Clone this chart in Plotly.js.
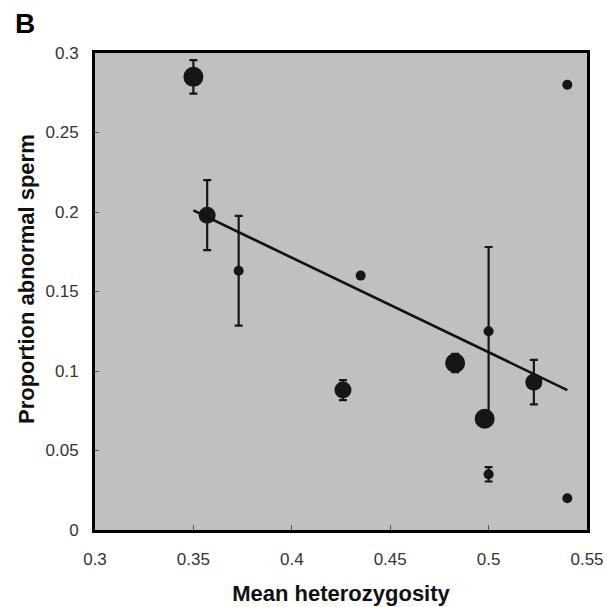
<!DOCTYPE html>
<html>
<head>
<meta charset="utf-8">
<script src="https://cdn.plot.ly/plotly-3.0.1.min.js"></script>
<style>
  html, body { margin: 0; padding: 0; background: #ffffff; }
  #chart { width: 607px; height: 607px; }
</style>
</head>
<body>
<div id="chart"></div>
<script>
// Data
var heterozygosity = [0.350, 0.357, 0.373, 0.426, 0.435, 0.483, 0.498, 0.500, 0.500, 0.523, 0.540, 0.540];
var abnormalSperm  = [0.285, 0.198, 0.163, 0.088, 0.160, 0.105, 0.070, 0.125, 0.035, 0.093, 0.280, 0.020];
var errorSE        = [0.0105, 0.022, 0.0345, 0.0063, 0, 0.0058, 0, 0.053, 0.0045, 0.014, 0, 0];
var sampleClass    = ['large', 'medium', 'small', 'medium', 'small', 'large', 'large', 'small', 'small', 'medium', 'small', 'small'];
var fitX = [0.350, 0.540];
var fitY = [0.201, 0.088];
var xTickVals = [0.3, 0.35, 0.4, 0.45, 0.5, 0.55];
var xTickText = ['0.3', '0.35', '0.4', '0.45', '0.5', '0.55'];
var yTickVals = [0, 0.05, 0.1, 0.15, 0.2, 0.25, 0.3];
var yTickText = ['0', '0.05', '0.1', '0.15', '0.2', '0.25', '0.3'];

var classSize = { large: 20, medium: 17, small: 10 };
var markerSizes = sampleClass.map(function (c) { return classSize[c]; });

var points = {
  type: 'scatter',
  mode: 'markers',
  x: heterozygosity,
  y: abnormalSperm,
  opacity: 1,
  marker: { color: '#161616', opacity: 1, size: markerSizes, line: { width: 0 } },
  error_y: { type: 'data', array: errorSE, visible: true, color: '#161616', thickness: 2.2, width: 4 },
  showlegend: false,
  hoverinfo: 'x+y'
};

var fitLine = {
  type: 'scatter',
  mode: 'lines',
  x: fitX,
  y: fitY,
  line: { color: '#111111', width: 2.6 },
  showlegend: false,
  hoverinfo: 'skip'
};

var font = 'Liberation Sans, Arial, Helvetica, sans-serif';

var layout = {
  width: 607,
  height: 607,
  margin: { l: 95, r: 20, t: 53, b: 77, pad: 0 },
  paper_bgcolor: '#ffffff',
  plot_bgcolor: '#c0c0c0',
  showlegend: false,
  font: { family: font, color: '#333333', size: 17 },
  xaxis: {
    range: [0.3, 0.55],
    tickvals: xTickVals,
    ticktext: xTickText,
    ticks: 'inside',
    ticklen: 5,
    tickwidth: 1,
    tickcolor: '#555555',
    showgrid: false,
    zeroline: false,
    showline: true,
    linecolor: '#000000',
    linewidth: 3,
    mirror: true,
    ticklabelstandoff: 12,
    tickfont: { family: font, size: 17, color: '#333333' },
    title: { text: 'Mean heterozygosity', font: { family: font, size: 22, color: '#111111', weight: 'bold' }, standoff: 18 }
  },
  yaxis: {
    range: [0, 0.3],
    tickvals: yTickVals,
    ticktext: yTickText,
    ticks: 'inside',
    ticklen: 4,
    tickwidth: 1,
    tickcolor: '#555555',
    showgrid: false,
    zeroline: false,
    showline: true,
    linecolor: '#000000',
    linewidth: 3,
    mirror: true,
    ticklabelstandoff: 10,
    tickfont: { family: font, size: 17, color: '#333333' }
  },
  annotations: [
    {
      text: '<b>Proportion abnormal sperm</b>',
      xref: 'paper', yref: 'paper',
      x: (26 - 95) / 492, y: (530 - 279) / 477,
      xanchor: 'center', yanchor: 'middle',
      textangle: -90,
      showarrow: false,
      font: { family: font, size: 22, color: '#111111' }
    },
    {
      text: '<b>B</b>',
      xref: 'paper', yref: 'paper',
      x: (25 - 95) / 492, y: (530 - 23) / 477,
      xanchor: 'center', yanchor: 'middle',
      showarrow: false,
      font: { family: font, size: 28, color: '#000000' }
    }
  ]
};

Plotly.newPlot('chart', [points, fitLine], layout, { displayModeBar: false, staticPlot: true });
</script>
</body>
</html>
